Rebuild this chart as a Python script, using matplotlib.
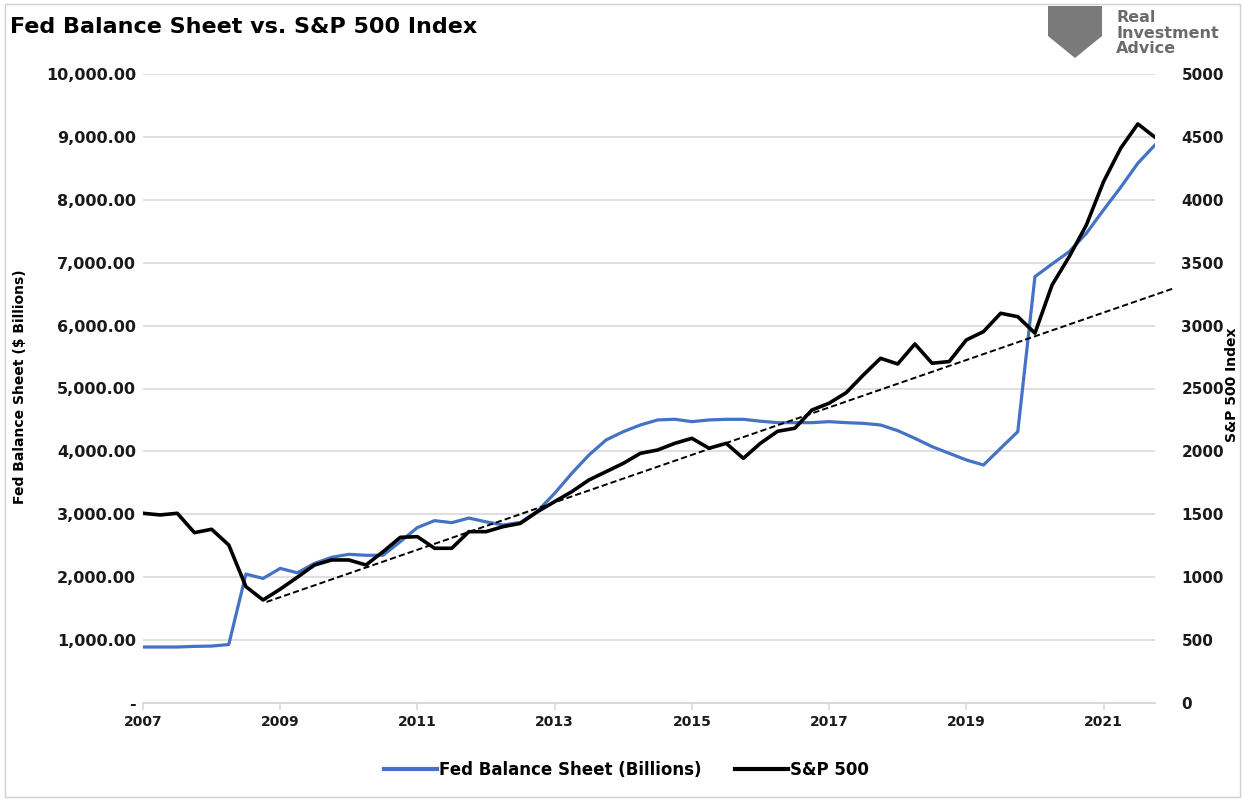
import numpy as np
import matplotlib
matplotlib.use("Agg")
import matplotlib.pyplot as plt
from matplotlib.patches import Rectangle, Polygon

# quarterly data, 2007 Q1 .. 2021 Q4
start_year = 2007
fed_bs = [890, 890, 890, 900, 905, 930, 2050, 1980, 2140, 2070,
          2220, 2316, 2364, 2348, 2350, 2565, 2790, 2899, 2867, 2940,
          2880, 2830, 2870, 3050, 3334, 3652, 3943, 4182, 4314, 4420,
          4500, 4511, 4473, 4500, 4510, 4510, 4480, 4457, 4457, 4457,
          4473, 4457, 4446, 4420, 4330, 4208, 4076, 3970, 3864, 3784,
          4050, 4314, 6778, 6980, 7176, 7468, 7839, 8199, 8581, 8872]
spx = [1508, 1495, 1508, 1354, 1381, 1256, 925, 819, 905, 1000,
       1097, 1137, 1137, 1097, 1203, 1317, 1322, 1230, 1230, 1362,
       1362, 1402, 1428, 1521, 1601, 1680, 1773, 1839, 1905, 1985,
       2011, 2064, 2104, 2025, 2064, 1945, 2065, 2160, 2184, 2329,
       2383, 2467, 2608, 2740, 2695, 2854, 2701, 2714, 2886, 2952,
       3098, 3071, 2940, 3323, 3548, 3800, 4144, 4410, 4603, 4497]
year_ticks = [2007, 2009, 2011, 2013, 2015, 2017, 2019, 2021]
trend_lows = [7, 52]  # support line through the 2009 and 2019 lows

x = start_year + np.arange(len(spx)) / 4

BLUE = "#4472C4"
GRID = "#d9d9d9"
TXT = "#1a1a1a"

fig = plt.figure(figsize=(12.45, 7.99), dpi=100)
ax = fig.add_axes([143/1245, 1 - 703/799, (1155-143)/1245, (703-74)/799])
ax2 = ax.twinx()

ax.plot(x, fed_bs, color=BLUE, lw=2.3, solid_joinstyle="round", zorder=3)
ax2.plot(x, spx, color="black", lw=2.6, solid_joinstyle="round", zorder=4)

# dashed trend through the two lows, one period forward
i0, i1 = trend_lows
slope = (spx[i1] - spx[i0]) / (x[i1] - x[i0])
xtl = np.array([x[i0] + 0.05, x[-1] + 0.25])
ax2.plot(xtl, spx[i0] + slope * (xtl - x[i0]) - 25, color="black", lw=1.4,
         ls=(0, (3.2, 1.6)), zorder=5, clip_on=False)

ax.set_xlim(start_year, x[-1])
ax.set_ylim(0, 10000)
ax2.set_ylim(0, 5000)
ax.set_yticks(np.arange(0, 10001, 1000))
ax2.set_yticks(np.arange(0, 5001, 500))
ax.set_yticklabels(["-" if v == 0 else f"{v:,.2f}" for v in ax.get_yticks()])
ax2.set_yticklabels([f"{int(v)}" for v in ax2.get_yticks()])
ax.set_xticks(year_ticks)
ax.set_xticklabels([str(y) for y in year_ticks])

ax.grid(axis="y", color=GRID, lw=1.2)
ax.set_axisbelow(True)
for a in (ax, ax2):
    for s in ("top", "left", "right"):
        a.spines[s].set_visible(False)
    a.spines["bottom"].set_color(GRID)
    a.spines["bottom"].set_linewidth(1.2)
ax.tick_params(axis="y", length=0, pad=5, labelsize=11.5, labelcolor=TXT)
ax2.tick_params(axis="y", length=0, pad=19, labelsize=11, labelcolor=TXT)
ax.tick_params(axis="x", length=5, width=1.2, color=GRID, pad=4,
               labelsize=10, labelcolor=TXT)
for lab in ax.get_yticklabels() + ax2.get_yticklabels() + ax.get_xticklabels():
    lab.set_fontweight("bold")

ax.set_ylabel(r"Fed Balance Sheet (\$ Billions)", fontsize=10, fontweight="bold")
ax.yaxis.set_label_coords((27 - 143) / 1012, (703 - 387) / 629)
ax2.set_ylabel("S&P 500 Index", fontsize=10, fontweight="bold", rotation=90)
ax2.yaxis.set_label_coords((1225 - 143) / 1012, (703 - 385) / 629)

fig.text(10/1245, 1 - 27/799, "Fed Balance Sheet vs. S&P 500 Index",
         fontsize=16, fontweight="bold", va="center", ha="left")

# logo
fig.text(1116/1245, 1 - 33/799, "Real\nInvestment\nAdvice", fontsize=11.5,
         fontweight="bold", color="#6b6b6b", va="center", ha="left",
         linespacing=1.02)
fig.patches.append(Polygon([[1048/1245, 1 - 6/799], [1102/1245, 1 - 6/799],
                            [1102/1245, 1 - 36/799], [1075/1245, 1 - 58/799],
                            [1048/1245, 1 - 36/799]],
                           closed=True, transform=fig.transFigure,
                           facecolor="#7a7a7a", edgecolor="none"))

fig.patches.append(Rectangle((5/1245, 2/799), 1235/1245, 793/799,
                             transform=fig.transFigure, fill=False,
                             edgecolor="#d0d0d0", lw=1))

h1, = ax.plot([], [], color=BLUE, lw=3)
h2, = ax.plot([], [], color="black", lw=3)
leg = fig.legend([h1, h2], ["Fed Balance Sheet (Billions)", "S&P 500"],
                 loc="center", bbox_to_anchor=(0.503, 1 - 770/799), ncol=2,
                 frameon=False, handlelength=3.2, handletextpad=0.1,
                 columnspacing=2.0, prop={"size": 12, "weight": "bold"})

fig.savefig("out.png", dpi=100, facecolor="white")
